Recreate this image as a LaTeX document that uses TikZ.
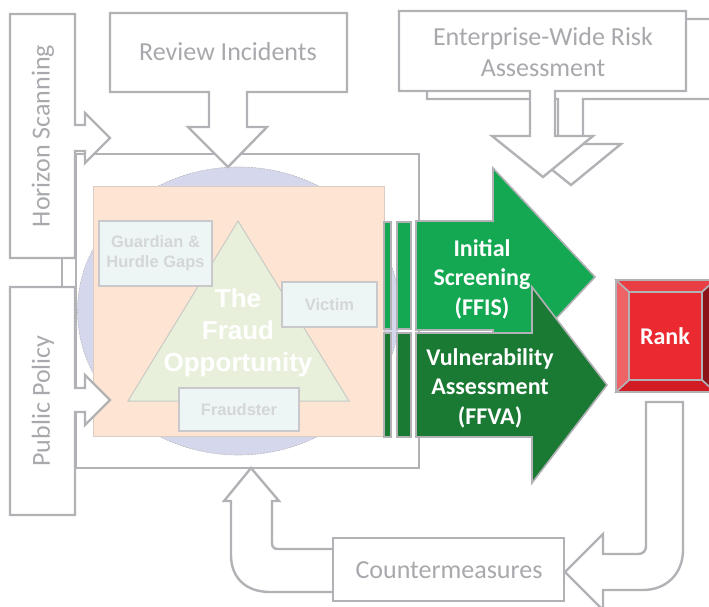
\documentclass[tikz,border=0pt]{standalone}
\usepackage{fontspec}
\setmainfont{Carlito}
\newfontfamily\arialfont{Liberation Sans}
\definecolor{lineGrey}{RGB}{178,178,182}
\definecolor{textGrey}{RGB}{168,169,173}
\definecolor{lavender}{RGB}{213,216,236}
\definecolor{peach}{RGB}{253,228,211}
\definecolor{paleGreen}{RGB}{232,240,220}
\definecolor{paleBox}{RGB}{238,246,245}
\definecolor{boxText}{RGB}{212,214,216}
\definecolor{lightGreen}{RGB}{20,168,82}
\definecolor{darkGreen}{RGB}{26,122,52}
\definecolor{rankFace}{RGB}{234,41,48}
\definecolor{rankTop}{RGB}{232,62,68}
\definecolor{rankLeft}{RGB}{238,100,102}
\definecolor{rankBottom}{RGB}{210,28,36}
\definecolor{rankRight}{RGB}{140,20,24}
\begin{document}
\begin{tikzpicture}[x=1pt,y=-1pt,
  callout/.style={draw=lineGrey,line width=2.4pt,fill=white},
  greytext/.style={text=textGrey,font=\fontsize{26}{31}\selectfont,align=center},
  whitetext/.style={text=white,font=\bfseries\fontsize{24}{29.5}\selectfont,align=center},
  factor/.style={draw=lineGrey!70,line width=1.2pt,fill=paleBox,inner sep=0pt,
    text=boxText,font=\arialfont\bfseries\fontsize{16.5}{20}\selectfont,align=center},
  bar/.style={draw=lineGrey,line width=1.6pt},
  bevel/.style={draw=lineGrey,line width=1.4pt}]
\useasboundingbox (0,0) rectangle (709,607);

% the frame round the fraud opportunity
\draw[draw=lineGrey,line width=2.4pt] (76,154) rectangle (419,468);

% the fraud opportunity
\fill[lavender,draw=lineGrey!80!lavender,line width=0.6pt,dash pattern=on 2pt off 1pt]
  (238.5,311) ellipse [x radius=161, y radius=144];
\draw[fill=peach,draw=lineGrey!45!peach,line width=1pt] (93,186) rectangle (384,436);
\draw[fill=paleGreen,draw=lineGrey!60!paleGreen,line width=1pt] (238,221) -- (349,401) -- (128,401) -- cycle;
\node[factor,minimum width=113,minimum height=65] (guard) at (155.5,253.5) {Guardian \&\\Hurdle Gaps};
\node[factor,minimum width=95,minimum height=45] (victim) at (329.5,304.5) {Victim};
\node[factor,minimum width=120,minimum height=43] (fraudster) at (239,409.5) {Fraudster};
\node[text=white,font=\arialfont\bfseries\fontsize{26}{32}\selectfont,align=center] (fo) at (238,333)
  {The\\Fraud\\Opportunity};

% inputs on the left
\draw[callout] (10,14) -- (75,14) -- (75,125) -- (85,125) -- (85,113) -- (110,138)
  -- (85,163) -- (85,151) -- (75,151) -- (75,258) -- (10,258) -- cycle;
\draw[callout] (10,287) -- (75,287) -- (75,388) -- (85,388) -- (85,375) -- (110,400)
  -- (85,425) -- (85,412) -- (75,412) -- (75,515) -- (10,515) -- cycle;
\node[greytext,rotate=90] (hs) at (43,136) {Horizon Scanning};
\node[greytext,rotate=90] (pp) at (43,401) {Public Policy};
\coordinate (hsfoot) at (62,258);
\coordinate (pptop) at (62,287);
\draw[draw=lineGrey,line width=2.4pt] (hsfoot) -- (pptop);

% inputs on top
\draw[callout] (110,13) -- (347,13) -- (347,92) -- (247,92) -- (247,127) -- (267,127)
  -- (228,167) -- (188,127) -- (209,127) -- (209,92) -- (110,92) -- cycle;
\node[greytext] (ri) at (228,52) {Review Incidents};
\draw[callout] (427,19) -- (714,19) -- (714,99) -- (583,99) -- (583,144) -- (621,144)
  -- (571,185) -- (520,144) -- (558,144) -- (558,99) -- (427,99) -- cycle;
\draw[callout] (399,11) -- (686,11) -- (686,91) -- (555,91) -- (555,136) -- (593,136)
  -- (543,177) -- (492,136) -- (530,136) -- (530,91) -- (399,91) -- cycle;
\node[greytext] (ewra) at (543,52) {Enterprise-Wide Risk\\Assessment};

% screening and assessment
\foreach \xa/\xb in {384/391,397/411} {
  \draw[bar,fill=lightGreen] (\xa,222) rectangle (\xb,329);
  \draw[bar,fill=darkGreen] (\xa,333) rectangle (\xb,437);
}
\draw[bar,fill=lightGreen] (416,221) -- (493,221) -- (493,168) -- (595,277) -- (493,386)
  -- (493,330) -- (416,330) -- cycle;
\draw[bar,fill=darkGreen] (416,333) -- (532,333) -- (532,287) -- (607,385) -- (532,483)
  -- (532,437) -- (416,437) -- cycle;
\node[whitetext] (ffis) at (482,279) {Initial\\Screening\\(FFIS)};
\node[whitetext] (ffva) at (490,388) {Vulnerability\\Assessment\\(FFVA)};

% rank
\fill[bevel,fill=rankTop] (616,280) -- (715,280) -- (702,292) -- (629,292) -- cycle;
\fill[bevel,fill=rankRight] (715,280) -- (715,392) -- (702,380) -- (702,292) -- cycle;
\fill[bevel,fill=rankBottom] (715,392) -- (616,392) -- (629,380) -- (702,380) -- cycle;
\fill[bevel,fill=rankLeft] (616,392) -- (616,280) -- (629,292) -- (629,380) -- cycle;
\draw[bevel] (616,280) -- (629,292) (715,280) -- (702,292) (715,392) -- (702,380) (616,392) -- (629,380);
\draw[bevel,fill=rankFace] (629,292) rectangle (702,380);
\draw[bevel,line width=2pt] (616,280) rectangle (715,392);
\node[whitetext] (rank) at (665,336) {Rank};

% countermeasures loop
\draw[callout] (646,402) -- (683,402) -- (683,550) .. controls (683,574) and (666,590) .. (643,590)
  -- (603,590) -- (603,610) -- (565,572) -- (603,534) -- (603,554) -- (638,554)
  .. controls (643,554) and (646,551) .. (646,546) -- cycle;
\draw[callout] (333,549) -- (278,549) .. controls (274,549) and (272,547) .. (272,543) -- (272,501)
  -- (279,501) -- (251,468) -- (224,501) -- (231,501) -- (231,555)
  .. controls (231,578) and (246,592) .. (270,592) -- (333,592);
\draw[callout] (333,538) rectangle (564,601);
\node[greytext] (cm) at (449,570) {Countermeasures};
\end{tikzpicture}
\end{document}
